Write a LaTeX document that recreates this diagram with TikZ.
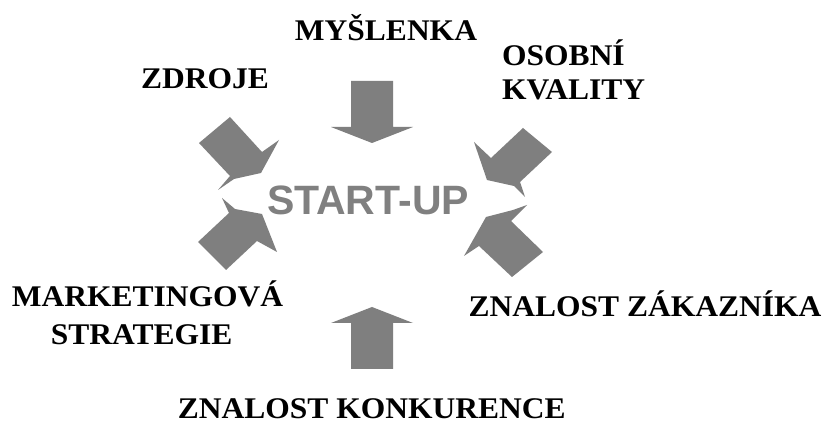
\documentclass[tikz,border=0pt]{standalone}
\usepackage{fontspec}
\setmainfont{Liberation Serif}
\newfontfamily\labelsans{Liberation Sans}
\definecolor{arrowgray}{HTML}{7F7F7F}
\definecolor{titlegray}{HTML}{808080}
\begin{document}
\begin{tikzpicture}[x=1pt,y=-1pt,
  factor/.style={inner sep=0pt, anchor=base, xscale=1.05, text depth=0pt,
    font=\fontsize{30}{32}\selectfont\bfseries, text=black},
  bigarrow/.style={fill=arrowgray, draw=none},
  centre/.style={inner sep=0pt, anchor=base, text=titlegray,
    font=\fontsize{41}{44}\labelsans\bfseries}]
\useasboundingbox (0,0) rectangle (823,427);
\fill[white] (0,0) rectangle (823,427);

% central label
\node[centre] (start) at (368,215) {START-UP};

% arrows pointing towards the centre
\fill[bigarrow] (351,81) -- (393,81) -- (393,127) -- (413,127) -- (372,143)
  -- (331,127) -- (351,127) -- cycle;
\fill[bigarrow] (351,369) -- (393,369) -- (393,323) -- (413,323) -- (372,307)
  -- (331,323) -- (351,323) -- cycle;
\fill[bigarrow] (199,143) -- (230,117) -- (262,152) -- (279,140) -- (261,173)
  -- (234,179) -- (218,190) -- (230,176) -- cycle;
\fill[bigarrow] (198,242) -- (229,213) -- (222,198) -- (235,209) -- (262,214)
  -- (277,252) -- (257,241) -- (226,270) -- cycle;
\fill[bigarrow] (523,128) -- (552,152) -- (520,182) -- (525,197) -- (514,186)
  -- (487,180) -- (474,142) -- (491,158) -- cycle;
\fill[bigarrow] (512,277) -- (479,246) -- (464,256) -- (486,217) -- (513,210)
  -- (527,205) -- (511,221) -- (543,252) -- cycle;

% factor labels
\node[factor] (myslenka) at (386,41) {MYŠLENKA};
\node[factor, anchor=base west] (osobni) at (502,65.5) {OSOBNÍ};
\node[factor, anchor=base west] (kvality) at (502,100) {KVALITY};
\node[factor] (zdroje) at (205,89) {ZDROJE};
\node[factor] (marketing) at (147.5,306.7) {MARKETINGOVÁ};
\node[factor] (strategie) at (141.7,345) {STRATEGIE};
\node[factor] (zakaznik) at (645,316.7) {ZNALOST ZÁKAZNÍKA};
\node[factor] (konkurence) at (371.7,419) {ZNALOST KONKURENCE};
\end{tikzpicture}
\end{document}
